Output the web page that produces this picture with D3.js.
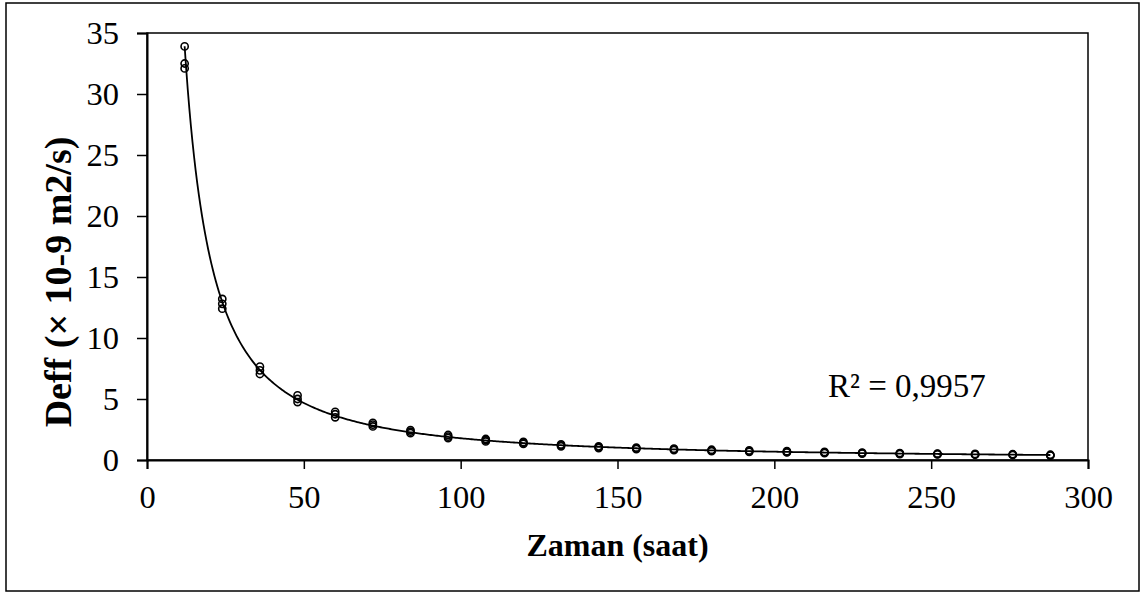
<!DOCTYPE html>
<html>
<head>
<meta charset="utf-8">
<script src="https://cdn.jsdelivr.net/npm/d3@7"></script>
<style>
  body { margin: 0; background: #fff; }
  svg { display: block; }
</style>
</head>
<body>
<div id="chart"></div>
<script>
// drying time (h) and effective diffusivity readings, three replicates
var hours = [12, 24, 36, 48, 60, 72, 84, 96, 108, 120, 132, 144, 156, 168, 180, 192, 204, 216, 228, 240, 252, 264, 276, 288];
var rep1 = [33.9, 13.2, 7.65, 5.3, 3.95, 3.05, 2.45, 2.05, 1.72, 1.48, 1.28, 1.12, 1.02, 0.93, 0.84, 0.78, 0.72, 0.66, 0.61, 0.57, 0.53, 0.50, 0.47, 0.43];
var rep2 = [32.5, 12.8, 7.35, 5.0, 3.75, 2.9, 2.32, 1.92, 1.62, 1.40, 1.20, 1.05, 0.96, 0.87, 0.78, 0.73, 0.67, 0.61, 0.57, 0.53, 0.49, 0.46, 0.44, 0.39];
var rep3 = [32.1, 12.4, 7.05, 4.75, 3.5, 2.75, 2.2, 1.8, 1.52, 1.32, 1.12, 0.98, 0.90, 0.81, 0.72, 0.67, 0.62, 0.56, 0.53, 0.49, 0.46, 0.43, 0.41, 0.36];
var xTicks = [0, 50, 100, 150, 200, 250, 300];
var yTicks = [0, 5, 10, 15, 20, 25, 30, 35];
var r2Label = "R² = 0,9957";
var xTitle = "Zaman (saat)";
var yTitle = "Deff (× 10-9 m2/s)";

var w = 1146, h = 594;
var m = {left: 147, right: 58, top: 33, bottom: 134};
var font = "'Liberation Serif', 'Times New Roman', serif";

var svg = d3.select("#chart").append("svg")
    .attr("width", w)
    .attr("height", h);

// outer frame
svg.append("rect")
    .attr("x", 6).attr("y", 3)
    .attr("width", 1133).attr("height", 588)
    .attr("fill", "none").attr("stroke", "#000").attr("stroke-width", 1.5);

var x = d3.scaleLinear().domain([0, 300]).range([m.left, w - m.right]);
var y = d3.scaleLinear().domain([0, 35]).range([h - m.bottom, m.top]);

// plot box
svg.append("rect")
    .attr("x", x(0)).attr("y", y(35))
    .attr("width", x(300) - x(0)).attr("height", y(0) - y(35))
    .attr("fill", "none").attr("stroke", "#000").attr("stroke-width", 1.5);

var xAxis = svg.append("g")
    .attr("transform", "translate(0," + y(0) + ")")
    .call(d3.axisBottom(x).tickValues(xTicks).tickSize(9).tickPadding(16));
var yAxis = svg.append("g")
    .attr("transform", "translate(" + x(0) + ",0)")
    .call(d3.axisLeft(y).tickValues(yTicks).tickSize(10).tickPadding(18));

[xAxis, yAxis].forEach(function(g) {
  g.select(".domain").attr("stroke-width", 2);
  g.selectAll(".tick line").attr("stroke-width", 1.5);
  g.selectAll("text").attr("font-family", font).attr("font-size", 32.5).attr("fill", "#000");
});

// power trend line fitted on log-log like a spreadsheet trendline
var pts = [];
hours.forEach(function(t, i) {
  [rep1, rep2, rep3].forEach(function(s) { pts.push([t, s[i]]); });
});
var lx = pts.map(function(p) { return Math.log(p[0]); });
var ly = pts.map(function(p) { return Math.log(p[1]); });
var mx = d3.mean(lx), my = d3.mean(ly);
var b = d3.sum(lx, function(v, i) { return (v - mx) * (ly[i] - my); }) / d3.sum(lx, function(v) { return (v - mx) * (v - mx); });
var a = Math.exp(my - b * mx);

svg.append("clipPath").attr("id", "clip")
  .append("rect")
    .attr("x", x(0)).attr("y", y(35))
    .attr("width", x(300) - x(0)).attr("height", y(0) - y(35));

var curve = d3.range(12, 288.5, 0.5).map(function(t) { return [t, a * Math.pow(t, b)]; });
svg.append("path")
    .datum(curve)
    .attr("clip-path", "url(#clip)")
    .attr("fill", "none")
    .attr("stroke", "#000")
    .attr("stroke-width", 1.8)
    .attr("d", d3.line().x(function(d) { return x(d[0]); }).y(function(d) { return y(d[1]); }));

svg.append("g").selectAll("circle")
    .data(pts)
  .enter().append("circle")
    .attr("cx", function(d) { return x(d[0]); })
    .attr("cy", function(d) { return y(d[1]); })
    .attr("r", 3.6)
    .attr("fill", "none")
    .attr("stroke", "#000")
    .attr("stroke-width", 1.6);

svg.append("text")
    .attr("x", 828).attr("y", 397)
    .attr("font-family", font).attr("font-size", 33)
    .text(r2Label);

svg.append("text")
    .attr("x", (x(0) + x(300)) / 2).attr("y", 556)
    .attr("text-anchor", "middle")
    .attr("font-family", font).attr("font-size", 32).attr("font-weight", "bold")
    .text(xTitle);

svg.append("text")
    .attr("transform", "translate(71,282) rotate(-90)")
    .attr("text-anchor", "middle")
    .attr("font-family", font).attr("font-size", 38).attr("font-weight", "bold")
    .text(yTitle);
</script>
</body>
</html>
